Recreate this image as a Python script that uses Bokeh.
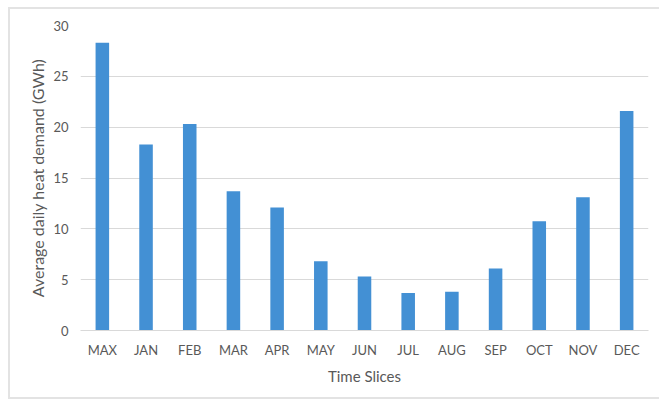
from bokeh.plotting import figure
from bokeh.models import ColumnDataSource, SingleIntervalTicker
from bokeh.embed import file_html
from bokeh.resources import INLINE

# Average daily heat demand per time slice (GWh)
slices = ["MAX", "JAN", "FEB", "MAR", "APR", "MAY", "JUN",
          "JUL", "AUG", "SEP", "OCT", "NOV", "DEC"]
demand = [28.3, 18.3, 20.3, 13.7, 12.1, 6.8, 5.3,
          3.7, 3.8, 6.1, 10.75, 13.1, 21.6]

source = ColumnDataSource(data=dict(slice=slices, demand=demand))

FONT = "Lato"
TEXT = "#595959"
GRID = "#d9d9d9"

p = figure(
    x_range=slices, y_range=(0, 30),
    width=651, height=392,
    margin=(7, 0, 0, 8),
    output_backend="svg", toolbar_location=None,
    min_border_left=70, min_border_right=13,
    min_border_top=16, min_border_bottom=71,
    styles={"border-left": "2px solid #e3e3e3",
            "border-top": "2px solid #e3e3e3",
            "border-bottom": "2px solid #e3e3e3"},
)
p.outline_line_color = None

p.vbar(x="slice", top="demand", width=0.31, source=source,
       fill_color="#4390d4", line_color=None)

p.x_range.range_padding = 0.0
p.xgrid.grid_line_color = None
p.ygrid.grid_line_color = GRID
p.ygrid.grid_line_width = 1

p.yaxis.ticker = SingleIntervalTicker(interval=5)
p.yaxis.axis_line_color = None
p.xaxis.axis_line_color = GRID
for ax in (p.xaxis, p.yaxis):
    ax.major_tick_line_color = None
    ax.minor_tick_line_color = None
    ax.major_tick_out = 0
    ax.major_tick_in = 0
    ax.minor_tick_out = 0
    ax.major_label_text_font = FONT
    ax.major_label_text_font_size = "13px"
    ax.major_label_text_color = TEXT
    ax.axis_label_text_font = FONT
    ax.axis_label_text_font_style = "normal"
    ax.axis_label_text_color = TEXT

p.xaxis.axis_label = "Time Slices"
p.yaxis.axis_label = "Average daily heat demand (GWh)"
p.xaxis.axis_label_text_font_size = "15px"
p.yaxis.axis_label_text_font_size = "16px"
p.yaxis.major_label_standoff = 12
p.xaxis.major_label_standoff = 11
p.xaxis.axis_label_standoff = 6
p.yaxis.axis_label_standoff = 3

open("out.html", "w").write(file_html(p, INLINE))
